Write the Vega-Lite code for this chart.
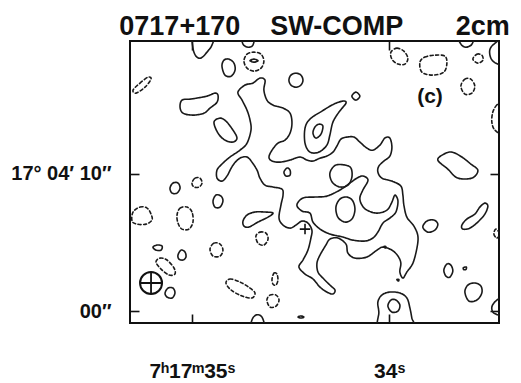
{
  "$schema": "https://vega.github.io/schema/vega-lite/v6.json",
  "width": 369,
  "height": 282,
  "autosize": {"type": "none"},
  "padding": {"left": 130, "top": 41, "right": 22, "bottom": 60},
  "background": "white",
  "title": {
    "text": "0717+170\u00a0\u00a0\u00a0\u00a0SW-COMP\u00a0\u00a0\u00a0\u00a0\u00a0\u00a0\u00a02cm",
    "font": "Liberation Sans",
    "fontSize": 27,
    "fontWeight": "bold",
    "color": "#111111",
    "anchor": "middle",
    "baseline": "alphabetic",
    "offset": -22
  },
  "config": {
    "view": {"stroke": "#111111", "strokeWidth": 2},
    "axis": {
      "domain": false,
      "grid": false,
      "tickColor": "#111111",
      "tickWidth": 1.6,
      "tickSize": -9,
      "labelFont": "Liberation Sans",
      "labelFontWeight": "bold",
      "labelColor": "#111111",
      "title": null
    }
  },
  "resolve": {"axis": {"x": "independent", "y": "independent"}},
  "layer": [
    {
      "data": {
        "values": [
          {"c":"c1","s":"p","x":0.07,"y":20.07},{"c":"c1","s":"p","x":0.07,"y":19.12},{"c":"c1","s":"p","x":0.29,"y":18.54},{"c":"c1","s":"p","x":0.65,"y":18.40},{"c":"c1","s":"p","x":1.09,"y":18.83},{"c":"c1","s":"p","x":1.45,"y":19.34},{"c":"c1","s":"p","x":1.60,"y":20.07},{"c":"c1","s":"p","x":0.87,"y":20.43},
          {"c":"c2","s":"p","x":3.64,"y":19.99},{"c":"c2","s":"p","x":3.71,"y":19.41},{"c":"c2","s":"p","x":4.07,"y":19.19},{"c":"c2","s":"p","x":4.43,"y":19.34},{"c":"c2","s":"p","x":4.51,"y":19.99},{"c":"c2","s":"p","x":4.07,"y":20.28},
          {"c":"c3","s":"n","x":-4.29,"y":16.07},{"c":"c3","s":"n","x":-3.78,"y":16.58},{"c":"c3","s":"n","x":-3.20,"y":17.01},{"c":"c3","s":"n","x":-2.98,"y":16.87},{"c":"c3","s":"n","x":-3.42,"y":16.28},{"c":"c3","s":"n","x":-4.07,"y":15.85},
          {"c":"c4","s":"p","x":2.18,"y":17.81},{"c":"c4","s":"p","x":2.33,"y":18.25},{"c":"c4","s":"p","x":2.69,"y":18.32},{"c":"c4","s":"p","x":3.05,"y":18.03},{"c":"c4","s":"p","x":3.13,"y":17.52},{"c":"c4","s":"p","x":2.84,"y":17.08},{"c":"c4","s":"p","x":2.40,"y":17.16},
          {"c":"c5","s":"n","x":3.78,"y":18.18},{"c":"c5","s":"n","x":4.00,"y":18.68},{"c":"c5","s":"n","x":4.51,"y":18.83},{"c":"c5","s":"n","x":5.02,"y":18.68},{"c":"c5","s":"n","x":5.23,"y":18.18},{"c":"c5","s":"n","x":5.02,"y":17.67},{"c":"c5","s":"n","x":4.51,"y":17.45},{"c":"c5","s":"n","x":4.00,"y":17.67},
          {"c":"c6","s":"p","x":4.22,"y":18.21},{"c":"c6","s":"p","x":4.51,"y":18.32},{"c":"c6","s":"p","x":4.80,"y":18.21},{"c":"c6","s":"p","x":4.51,"y":18.10},
          {"c":"c7","s":"p","x":7.05,"y":16.79},{"c":"c7","s":"p","x":7.20,"y":17.16},{"c":"c7","s":"p","x":7.56,"y":17.30},{"c":"c7","s":"p","x":7.92,"y":17.16},{"c":"c7","s":"p","x":8.07,"y":16.79},{"c":"c7","s":"p","x":7.92,"y":16.43},{"c":"c7","s":"p","x":7.56,"y":16.28},{"c":"c7","s":"p","x":7.20,"y":16.43},
          {"c":"c8","s":"p","x":-0.73,"y":15.34},{"c":"c8","s":"p","x":-0.15,"y":15.41},{"c":"c8","s":"p","x":0.36,"y":15.49},{"c":"c8","s":"p","x":1.09,"y":15.63},{"c":"c8","s":"p","x":1.67,"y":15.85},{"c":"c8","s":"p","x":1.89,"y":15.70},{"c":"c8","s":"p","x":1.82,"y":15.19},{"c":"c8","s":"p","x":1.31,"y":14.76},{"c":"c8","s":"p","x":0.87,"y":14.39},{"c":"c8","s":"p","x":0.07,"y":14.25},{"c":"c8","s":"p","x":-0.65,"y":14.39},{"c":"c8","s":"p","x":-0.87,"y":14.83},
          {"c":"c9","s":"p","x":1.60,"y":13.74},{"c":"c9","s":"p","x":2.04,"y":14.03},{"c":"c9","s":"p","x":2.47,"y":13.81},{"c":"c9","s":"p","x":2.98,"y":13.16},{"c":"c9","s":"p","x":3.27,"y":12.58},{"c":"c9","s":"p","x":2.98,"y":12.29},{"c":"c9","s":"p","x":2.40,"y":12.43},{"c":"c9","s":"p","x":1.89,"y":12.94},
          {"c":"c10","s":"p","x":8.22,"y":13.30},{"c":"c10","s":"p","x":8.58,"y":13.96},{"c":"c10","s":"p","x":9.45,"y":14.54},{"c":"c10","s":"p","x":10.32,"y":15.05},{"c":"c10","s":"p","x":10.98,"y":15.27},{"c":"c10","s":"p","x":11.20,"y":15.12},{"c":"c10","s":"p","x":10.69,"y":14.47},{"c":"c10","s":"p","x":10.25,"y":13.74},{"c":"c10","s":"p","x":10.03,"y":12.80},{"c":"c10","s":"p","x":9.81,"y":12.07},{"c":"c10","s":"p","x":9.23,"y":11.56},{"c":"c10","s":"p","x":8.58,"y":11.56},{"c":"c10","s":"p","x":8.22,"y":12.21},
          {"c":"c11","s":"p","x":9.23,"y":13.59},{"c":"c11","s":"p","x":9.52,"y":13.45},{"c":"c11","s":"p","x":9.38,"y":12.87},{"c":"c11","s":"p","x":9.01,"y":12.58},{"c":"c11","s":"p","x":8.80,"y":12.94},{"c":"c11","s":"p","x":8.94,"y":13.38},
          {"c":"c12","s":"p","x":11.63,"y":15.63},{"c":"c12","s":"p","x":11.92,"y":15.92},{"c":"c12","s":"p","x":12.21,"y":15.63},{"c":"c12","s":"p","x":11.92,"y":15.34},
          {"c":"c13","s":"n","x":14.47,"y":18.83},{"c":"c13","s":"n","x":14.90,"y":19.12},{"c":"c13","s":"n","x":15.41,"y":18.90},{"c":"c13","s":"n","x":15.70,"y":18.39},{"c":"c13","s":"n","x":15.49,"y":17.96},{"c":"c13","s":"n","x":14.98,"y":17.96},{"c":"c13","s":"n","x":14.54,"y":18.32},
          {"c":"c14","s":"n","x":16.58,"y":18.10},{"c":"c14","s":"n","x":16.94,"y":18.47},{"c":"c14","s":"n","x":17.67,"y":18.61},{"c":"c14","s":"n","x":18.39,"y":18.54},{"c":"c14","s":"n","x":18.54,"y":18.03},{"c":"c14","s":"n","x":18.32,"y":17.38},{"c":"c14","s":"n","x":17.52,"y":17.16},{"c":"c14","s":"n","x":16.72,"y":17.38},
          {"c":"c15","s":"n","x":20.43,"y":18.32},{"c":"c15","s":"n","x":20.72,"y":18.68},{"c":"c15","s":"n","x":21.08,"y":18.61},{"c":"c15","s":"n","x":21.16,"y":18.25},{"c":"c15","s":"n","x":20.79,"y":18.03},
          {"c":"c16","s":"p","x":22.61,"y":19.70},{"c":"c16","s":"p","x":21.96,"y":19.41},{"c":"c16","s":"p","x":21.66,"y":18.98},{"c":"c16","s":"p","x":21.74,"y":18.39},{"c":"c16","s":"p","x":22.10,"y":18.03},{"c":"c16","s":"p","x":22.61,"y":18.03},
          {"c":"c17","s":"p","x":19.41,"y":19.99},{"c":"c17","s":"p","x":19.56,"y":19.41},{"c":"c17","s":"p","x":19.92,"y":19.19},{"c":"c17","s":"p","x":20.36,"y":19.41},{"c":"c17","s":"p","x":20.43,"y":19.99},
          {"c":"c18","s":"n","x":19.56,"y":16.36},{"c":"c18","s":"n","x":19.85,"y":16.87},{"c":"c18","s":"n","x":20.28,"y":16.87},{"c":"c18","s":"n","x":20.57,"y":16.36},{"c":"c18","s":"n","x":20.36,"y":15.85},{"c":"c18","s":"n","x":19.85,"y":15.78},
          {"c":"c19","s":"n","x":22.61,"y":15.27},{"c":"c19","s":"n","x":22.17,"y":14.98},{"c":"c19","s":"n","x":21.88,"y":14.47},{"c":"c19","s":"n","x":21.81,"y":13.74},{"c":"c19","s":"n","x":22.03,"y":13.16},{"c":"c19","s":"n","x":22.61,"y":13.01},
          {"c":"c20","s":"p","x":17.88,"y":10.98},{"c":"c20","s":"p","x":18.32,"y":11.41},{"c":"c20","s":"p","x":18.90,"y":11.56},{"c":"c20","s":"p","x":19.63,"y":11.20},{"c":"c20","s":"p","x":20.28,"y":10.69},{"c":"c20","s":"p","x":20.79,"y":10.25},{"c":"c20","s":"p","x":20.50,"y":9.74},{"c":"c20","s":"p","x":19.85,"y":9.60},{"c":"c20","s":"p","x":19.19,"y":9.74},{"c":"c20","s":"p","x":18.61,"y":10.32},
          {"c":"c21","s":"p","x":16.79,"y":6.11},{"c":"c21","s":"p","x":17.08,"y":6.54},{"c":"c21","s":"p","x":17.59,"y":6.62},{"c":"c21","s":"p","x":17.88,"y":6.32},{"c":"c21","s":"p","x":17.67,"y":5.89},{"c":"c21","s":"p","x":17.16,"y":5.74},
          {"c":"c22","s":"p","x":19.63,"y":6.25},{"c":"c22","s":"p","x":19.99,"y":6.69},{"c":"c22","s":"p","x":20.57,"y":7.05},{"c":"c22","s":"p","x":20.94,"y":7.56},{"c":"c22","s":"p","x":21.30,"y":7.85},{"c":"c22","s":"p","x":21.52,"y":7.63},{"c":"c22","s":"p","x":21.30,"y":7.05},{"c":"c22","s":"p","x":20.79,"y":6.47},{"c":"c22","s":"p","x":20.21,"y":6.03},{"c":"c22","s":"p","x":19.70,"y":5.96},
          {"c":"c23","s":"p","x":18.32,"y":2.98},{"c":"c23","s":"p","x":18.54,"y":3.42},{"c":"c23","s":"p","x":18.83,"y":3.34},{"c":"c23","s":"p","x":18.97,"y":2.91},{"c":"c23","s":"p","x":18.76,"y":2.47},{"c":"c23","s":"p","x":18.47,"y":2.54},
          {"c":"c24","s":"p","x":19.74,"y":3.16},{"c":"c24","s":"p","x":19.96,"y":3.20},{"c":"c24","s":"p","x":19.92,"y":3.02},{"c":"c24","s":"p","x":19.76,"y":3.02},
          {"c":"c25","s":"p","x":19.85,"y":1.38},{"c":"c25","s":"p","x":20.07,"y":1.89},{"c":"c25","s":"p","x":20.57,"y":2.04},{"c":"c25","s":"p","x":21.01,"y":1.82},{"c":"c25","s":"p","x":21.08,"y":1.31},{"c":"c25","s":"p","x":20.72,"y":0.80},{"c":"c25","s":"p","x":20.14,"y":0.73},
          {"c":"c26","s":"n","x":22.10,"y":5.96},{"c":"c26","s":"n","x":21.96,"y":5.60},{"c":"c26","s":"n","x":22.17,"y":5.31},{"c":"c26","s":"n","x":22.39,"y":5.60},
          {"c":"c27","s":"p","x":22.61,"y":0.95},{"c":"c27","s":"p","x":22.10,"y":0.73},{"c":"c27","s":"p","x":21.81,"y":0.29},{"c":"c27","s":"p","x":21.96,"y":-0.15},{"c":"c27","s":"p","x":22.61,"y":-0.22},
          {"c":"c28","s":"p","x":13.67,"y":-1.38},{"c":"c28","s":"p","x":13.59,"y":-0.07},{"c":"c28","s":"p","x":13.52,"y":0.65},{"c":"c28","s":"p","x":13.81,"y":1.16},{"c":"c28","s":"p","x":14.39,"y":1.38},{"c":"c28","s":"p","x":15.12,"y":1.31},{"c":"c28","s":"p","x":15.63,"y":0.95},{"c":"c28","s":"p","x":15.85,"y":0.22},{"c":"c28","s":"p","x":15.99,"y":-0.51},{"c":"c28","s":"p","x":16.14,"y":-1.38},
          {"c":"c29","s":"p","x":14.25,"y":0.36},{"c":"c29","s":"p","x":14.47,"y":0.80},{"c":"c29","s":"p","x":14.83,"y":0.80},{"c":"c29","s":"p","x":15.12,"y":0.44},{"c":"c29","s":"p","x":14.98,"y":0.00},{"c":"c29","s":"p","x":14.54,"y":-0.07},
          {"c":"c30","s":"p","x":4.29,"y":-1.38},{"c":"c30","s":"p","x":4.36,"y":-0.65},{"c":"c30","s":"p","x":4.65,"y":-0.29},{"c":"c30","s":"p","x":5.02,"y":-0.36},{"c":"c30","s":"p","x":5.23,"y":-0.80},{"c":"c30","s":"p","x":5.31,"y":-1.38},
          {"c":"c31","s":"p","x":7.71,"y":-0.44},{"c":"c31","s":"p","x":7.92,"y":-0.36},{"c":"c31","s":"p","x":8.14,"y":-0.44},{"c":"c31","s":"p","x":7.92,"y":-0.51},
          {"c":"c32","s":"p","x":13.96,"y":4.69},{"c":"c32","s":"p","x":14.10,"y":4.69},{"c":"c32","s":"p","x":14.07,"y":4.58},
          {"c":"c33","s":"p","x":14.90,"y":2.29},{"c":"c33","s":"p","x":15.05,"y":2.29},{"c":"c33","s":"p","x":15.01,"y":2.18},
          {"c":"c34","s":"p","x":-1.60,"y":8.94},{"c":"c34","s":"p","x":-1.38,"y":9.31},{"c":"c34","s":"p","x":-1.02,"y":9.31},{"c":"c34","s":"p","x":-0.87,"y":8.94},{"c":"c34","s":"p","x":-1.09,"y":8.58},{"c":"c34","s":"p","x":-1.45,"y":8.58},
          {"c":"c35","s":"n","x":0.00,"y":9.31},{"c":"c35","s":"n","x":0.22,"y":9.67},{"c":"c35","s":"n","x":0.58,"y":9.67},{"c":"c35","s":"n","x":0.73,"y":9.31},{"c":"c35","s":"n","x":0.51,"y":9.02},{"c":"c35","s":"n","x":0.15,"y":9.02},
          {"c":"c36","s":"p","x":1.53,"y":8.00},{"c":"c36","s":"p","x":1.74,"y":8.43},{"c":"c36","s":"p","x":2.11,"y":8.36},{"c":"c36","s":"p","x":2.25,"y":8.00},{"c":"c36","s":"p","x":2.04,"y":7.56},{"c":"c36","s":"p","x":1.67,"y":7.56},
          {"c":"c37","s":"n","x":-4.29,"y":7.20},{"c":"c37","s":"n","x":-3.78,"y":7.56},{"c":"c37","s":"n","x":-3.27,"y":7.49},{"c":"c37","s":"n","x":-2.98,"y":7.05},{"c":"c37","s":"n","x":-2.91,"y":6.62},{"c":"c37","s":"n","x":-3.34,"y":6.32},{"c":"c37","s":"n","x":-4.00,"y":6.32},{"c":"c37","s":"n","x":-4.36,"y":6.54},
          {"c":"c38","s":"n","x":-1.09,"y":6.98},{"c":"c38","s":"n","x":-0.87,"y":7.49},{"c":"c38","s":"n","x":-0.36,"y":7.56},{"c":"c38","s":"n","x":0.00,"y":7.20},{"c":"c38","s":"n","x":0.07,"y":6.47},{"c":"c38","s":"n","x":-0.22,"y":5.96},{"c":"c38","s":"n","x":-0.73,"y":5.96},{"c":"c38","s":"n","x":-1.02,"y":6.40},
          {"c":"c39","s":"p","x":3.71,"y":6.54},{"c":"c39","s":"p","x":4.00,"y":6.98},{"c":"c39","s":"p","x":4.58,"y":7.20},{"c":"c39","s":"p","x":5.31,"y":7.20},{"c":"c39","s":"p","x":5.89,"y":7.13},{"c":"c39","s":"p","x":5.53,"y":6.83},{"c":"c39","s":"p","x":4.80,"y":6.47},{"c":"c39","s":"p","x":4.14,"y":6.11},{"c":"c39","s":"p","x":3.78,"y":6.18},
          {"c":"c40","s":"n","x":4.65,"y":5.45},{"c":"c40","s":"n","x":4.94,"y":5.74},{"c":"c40","s":"n","x":5.38,"y":5.67},{"c":"c40","s":"n","x":5.53,"y":5.23},{"c":"c40","s":"n","x":5.23,"y":4.80},{"c":"c40","s":"n","x":4.80,"y":4.94},
          {"c":"c41","s":"p","x":-2.84,"y":4.65},{"c":"c41","s":"p","x":-2.54,"y":4.80},{"c":"c41","s":"p","x":-2.18,"y":4.73},{"c":"c41","s":"p","x":-2.25,"y":4.43},{"c":"c41","s":"p","x":-2.62,"y":4.43},
          {"c":"c42","s":"p","x":-1.02,"y":4.07},{"c":"c42","s":"p","x":-0.80,"y":4.43},{"c":"c42","s":"p","x":-0.51,"y":4.29},{"c":"c42","s":"p","x":-0.44,"y":3.93},{"c":"c42","s":"p","x":-0.65,"y":3.71},{"c":"c42","s":"p","x":-0.95,"y":3.78},
          {"c":"c43","s":"n","x":1.31,"y":4.51},{"c":"c43","s":"n","x":1.60,"y":4.94},{"c":"c43","s":"n","x":2.04,"y":4.87},{"c":"c43","s":"n","x":2.25,"y":4.43},{"c":"c43","s":"n","x":2.04,"y":4.00},{"c":"c43","s":"n","x":1.53,"y":4.00},
          {"c":"c44","s":"n","x":-2.62,"y":3.56},{"c":"c44","s":"n","x":-2.33,"y":3.85},{"c":"c44","s":"n","x":-1.82,"y":3.71},{"c":"c44","s":"n","x":-1.31,"y":3.13},{"c":"c44","s":"n","x":-1.24,"y":2.69},{"c":"c44","s":"n","x":-1.67,"y":2.62},{"c":"c44","s":"n","x":-2.25,"y":3.05},
          {"c":"c45","s":"p","x":-1.96,"y":1.31},{"c":"c45","s":"p","x":-1.74,"y":1.67},{"c":"c45","s":"p","x":-1.38,"y":1.67},{"c":"c45","s":"p","x":-1.24,"y":1.31},{"c":"c45","s":"p","x":-1.45,"y":0.95},{"c":"c45","s":"p","x":-1.82,"y":1.02},
          {"c":"c46","s":"n","x":2.47,"y":2.04},{"c":"c46","s":"n","x":2.76,"y":2.33},{"c":"c46","s":"n","x":3.49,"y":2.11},{"c":"c46","s":"n","x":4.22,"y":1.67},{"c":"c46","s":"n","x":4.58,"y":1.31},{"c":"c46","s":"n","x":4.36,"y":0.95},{"c":"c46","s":"n","x":3.64,"y":1.09},{"c":"c46","s":"n","x":2.84,"y":1.53},
          {"c":"c47","s":"n","x":5.82,"y":2.33},{"c":"c47","s":"n","x":5.96,"y":2.76},{"c":"c47","s":"n","x":6.18,"y":2.69},{"c":"c47","s":"n","x":6.25,"y":2.25},{"c":"c47","s":"n","x":6.11,"y":1.89},{"c":"c47","s":"n","x":5.89,"y":1.96},
          {"c":"c48","s":"n","x":5.45,"y":0.80},{"c":"c48","s":"n","x":5.67,"y":1.16},{"c":"c48","s":"n","x":6.11,"y":1.16},{"c":"c48","s":"n","x":6.33,"y":0.80},{"c":"c48","s":"n","x":6.11,"y":0.36},{"c":"c48","s":"n","x":5.67,"y":0.29},
          {"c":"m","s":"p","x":3.34,"y":15.92},{"c":"m","s":"p","x":3.85,"y":16.43},{"c":"m","s":"p","x":4.43,"y":16.58},{"c":"m","s":"p","x":4.94,"y":16.94},{"c":"m","s":"p","x":5.31,"y":16.79},{"c":"m","s":"p","x":5.23,"y":16.07},{"c":"m","s":"p","x":5.45,"y":15.34},{"c":"m","s":"p","x":5.89,"y":14.98},{"c":"m","s":"p","x":6.62,"y":14.76},{"c":"m","s":"p","x":7.13,"y":14.39},{"c":"m","s":"p","x":7.27,"y":13.67},{"c":"m","s":"p","x":7.13,"y":12.94},{"c":"m","s":"p","x":6.76,"y":12.43},{"c":"m","s":"p","x":6.25,"y":12.21},{"c":"m","s":"p","x":5.82,"y":11.70},{"c":"m","s":"p","x":5.60,"y":11.20},{"c":"m","s":"p","x":5.82,"y":10.91},{"c":"m","s":"p","x":6.40,"y":10.83},{"c":"m","s":"p","x":7.13,"y":10.98},{"c":"m","s":"p","x":7.85,"y":11.20},{"c":"m","s":"p","x":8.36,"y":10.98},{"c":"m","s":"p","x":8.80,"y":10.91},{"c":"m","s":"p","x":9.31,"y":11.12},{"c":"m","s":"p","x":9.81,"y":11.27},{"c":"m","s":"p","x":10.25,"y":11.56},{"c":"m","s":"p","x":10.54,"y":12.00},{"c":"m","s":"p","x":10.83,"y":12.50},{"c":"m","s":"p","x":11.27,"y":12.65},{"c":"m","s":"p","x":11.78,"y":12.65},{"c":"m","s":"p","x":12.21,"y":12.29},{"c":"m","s":"p","x":12.72,"y":11.85},{"c":"m","s":"p","x":13.16,"y":11.70},{"c":"m","s":"p","x":13.67,"y":12.07},{"c":"m","s":"p","x":14.03,"y":12.58},{"c":"m","s":"p","x":14.39,"y":12.58},{"c":"m","s":"p","x":14.54,"y":11.92},{"c":"m","s":"p","x":14.39,"y":11.27},{"c":"m","s":"p","x":13.96,"y":10.91},{"c":"m","s":"p","x":13.59,"y":10.54},{"c":"m","s":"p","x":13.52,"y":10.11},{"c":"m","s":"p","x":13.81,"y":9.67},{"c":"m","s":"p","x":14.54,"y":9.45},{"c":"m","s":"p","x":15.19,"y":9.09},{"c":"m","s":"p","x":15.34,"y":8.43},{"c":"m","s":"p","x":15.41,"y":7.71},{"c":"m","s":"p","x":15.63,"y":6.83},{"c":"m","s":"p","x":16.14,"y":6.18},{"c":"m","s":"p","x":16.43,"y":5.45},{"c":"m","s":"p","x":16.36,"y":4.58},{"c":"m","s":"p","x":16.07,"y":3.49},{"c":"m","s":"p","x":15.63,"y":2.84},{"c":"m","s":"p","x":15.34,"y":2.40},{"c":"m","s":"p","x":15.12,"y":2.84},{"c":"m","s":"p","x":15.19,"y":3.49},{"c":"m","s":"p","x":14.98,"y":4.00},{"c":"m","s":"p","x":14.54,"y":4.43},{"c":"m","s":"p","x":13.89,"y":4.65},{"c":"m","s":"p","x":13.45,"y":4.43},{"c":"m","s":"p","x":12.72,"y":3.93},{"c":"m","s":"p","x":11.85,"y":3.85},{"c":"m","s":"p","x":11.34,"y":4.22},{"c":"m","s":"p","x":11.20,"y":4.87},{"c":"m","s":"p","x":10.61,"y":5.31},{"c":"m","s":"p","x":10.03,"y":5.23},{"c":"m","s":"p","x":9.74,"y":4.80},{"c":"m","s":"p","x":9.31,"y":4.07},{"c":"m","s":"p","x":9.09,"y":3.49},{"c":"m","s":"p","x":9.16,"y":2.84},{"c":"m","s":"p","x":9.52,"y":2.40},{"c":"m","s":"p","x":10.03,"y":1.89},{"c":"m","s":"p","x":10.40,"y":1.53},{"c":"m","s":"p","x":10.25,"y":1.24},{"c":"m","s":"p","x":9.81,"y":1.38},{"c":"m","s":"p","x":9.31,"y":1.74},{"c":"m","s":"p","x":8.80,"y":2.33},{"c":"m","s":"p","x":8.22,"y":2.69},{"c":"m","s":"p","x":7.78,"y":3.20},{"c":"m","s":"p","x":8.07,"y":3.71},{"c":"m","s":"p","x":8.43,"y":4.43},{"c":"m","s":"p","x":8.65,"y":5.31},{"c":"m","s":"p","x":8.72,"y":5.89},{"c":"m","s":"p","x":8.43,"y":6.40},{"c":"m","s":"p","x":8.00,"y":6.54},{"c":"m","s":"p","x":7.56,"y":6.25},{"c":"m","s":"p","x":7.13,"y":6.03},{"c":"m","s":"p","x":6.62,"y":6.25},{"c":"m","s":"p","x":6.33,"y":6.76},{"c":"m","s":"p","x":6.47,"y":7.71},{"c":"m","s":"p","x":6.62,"y":8.43},{"c":"m","s":"p","x":6.54,"y":8.87},{"c":"m","s":"p","x":5.89,"y":9.02},{"c":"m","s":"p","x":5.31,"y":9.16},{"c":"m","s":"p","x":4.94,"y":9.67},{"c":"m","s":"p","x":4.73,"y":10.25},{"c":"m","s":"p","x":4.36,"y":10.83},{"c":"m","s":"p","x":4.00,"y":11.20},{"c":"m","s":"p","x":3.49,"y":11.12},{"c":"m","s":"p","x":2.98,"y":10.61},{"c":"m","s":"p","x":2.54,"y":9.81},{"c":"m","s":"p","x":2.18,"y":9.45},{"c":"m","s":"p","x":1.82,"y":9.67},{"c":"m","s":"p","x":1.82,"y":10.25},{"c":"m","s":"p","x":2.18,"y":10.69},{"c":"m","s":"p","x":2.76,"y":11.20},{"c":"m","s":"p","x":3.49,"y":11.70},{"c":"m","s":"p","x":4.00,"y":12.21},{"c":"m","s":"p","x":4.29,"y":13.16},{"c":"m","s":"p","x":4.22,"y":13.89},{"c":"m","s":"p","x":4.00,"y":14.61},{"c":"m","s":"p","x":3.64,"y":15.34},
          {"c":"i1","s":"p","x":10.11,"y":10.25},{"c":"i1","s":"p","x":10.47,"y":10.62},{"c":"i1","s":"p","x":11.12,"y":10.62},{"c":"i1","s":"p","x":11.56,"y":10.40},{"c":"i1","s":"p","x":11.63,"y":9.74},{"c":"i1","s":"p","x":11.34,"y":9.16},{"c":"i1","s":"p","x":10.76,"y":9.02},{"c":"i1","s":"p","x":10.25,"y":9.31},{"c":"i1","s":"p","x":10.03,"y":9.82},
          {"c":"i2","s":"p","x":10.47,"y":7.56},{"c":"i2","s":"p","x":10.76,"y":8.14},{"c":"i2","s":"p","x":11.27,"y":8.29},{"c":"i2","s":"p","x":11.70,"y":8.00},{"c":"i2","s":"p","x":11.85,"y":7.35},{"c":"i2","s":"p","x":11.63,"y":6.69},{"c":"i2","s":"p","x":11.12,"y":6.47},{"c":"i2","s":"p","x":10.61,"y":6.83},
          {"c":"i3","s":"p","x":6.69,"y":10.11},{"c":"i3","s":"p","x":6.91,"y":10.40},{"c":"i3","s":"p","x":7.13,"y":10.25},{"c":"i3","s":"p","x":7.13,"y":9.89},{"c":"i3","s":"p","x":6.83,"y":9.82},
          {"c":"i4","s":"p","x":7.63,"y":7.71},{"c":"i4","s":"p","x":8.07,"y":8.22},{"c":"i4","s":"p","x":8.94,"y":8.29},{"c":"i4","s":"p","x":9.81,"y":8.36},{"c":"i4","s":"p","x":10.76,"y":8.80},{"c":"i4","s":"p","x":11.49,"y":9.31},{"c":"i4","s":"p","x":12.00,"y":9.67},{"c":"i4","s":"p","x":12.43,"y":9.82},{"c":"i4","s":"p","x":12.80,"y":9.52},{"c":"i4","s":"p","x":12.43,"y":8.80},{"c":"i4","s":"p","x":12.21,"y":8.22},{"c":"i4","s":"p","x":12.36,"y":7.71},{"c":"i4","s":"p","x":12.72,"y":7.34},{"c":"i4","s":"p","x":13.45,"y":7.12},{"c":"i4","s":"p","x":14.18,"y":7.34},{"c":"i4","s":"p","x":14.54,"y":7.92},{"c":"i4","s":"p","x":14.76,"y":8.43},{"c":"i4","s":"p","x":14.98,"y":8.00},{"c":"i4","s":"p","x":14.83,"y":7.20},{"c":"i4","s":"p","x":14.39,"y":6.76},{"c":"i4","s":"p","x":13.89,"y":6.40},{"c":"i4","s":"p","x":13.52,"y":5.74},{"c":"i4","s":"p","x":13.16,"y":5.31},{"c":"i4","s":"p","x":12.58,"y":5.09},{"c":"i4","s":"p","x":11.70,"y":5.16},{"c":"i4","s":"p","x":10.98,"y":5.38},{"c":"i4","s":"p","x":10.03,"y":5.60},{"c":"i4","s":"p","x":9.31,"y":5.96},{"c":"i4","s":"p","x":8.80,"y":6.47},{"c":"i4","s":"p","x":8.58,"y":7.12},{"c":"i4","s":"p","x":8.00,"y":7.27}
        ]
      },
      "mark": {"type": "line", "interpolate": "cardinal-closed", "clip": true, "color": "#1a1a1a", "strokeWidth": 1.6, "strokeJoin": "round", "strokeCap": "round"},
      "encoding": {
        "x": {
          "field": "x", "type": "quantitative",
          "scale": {"domain": [-4.51, 22.33], "nice": false, "zero": false},
          "axis": {"orient": "bottom", "values": [0, 14.34], "labelFontSize": 21, "labelPadding": 63, "labelBaseline": "alphabetic", "labelAlign": "center",
                   "labelExpr": "datum.value == 0 ? '7ʰ17ᵐ35ˢ' : '34ˢ'"}
        },
        "y": {
          "field": "y", "type": "quantitative",
          "scale": {"domain": [-0.87, 19.64], "nice": false, "zero": false},
          "axis": {"orient": "left", "values": [0, 10], "labelFontSize": 20, "labelPadding": 28, "labelBaseline": "middle",
                   "labelExpr": "datum.value == 10 ? '17° 04′ 10″' : '00″'"}
        },
        "detail": {"field": "c"},
        "order": {"value": null},
        "strokeDash": {"field": "s", "type": "nominal", "scale": {"domain": ["p", "n"], "range": [[1, 0], [3, 2.5]]}, "legend": null}
      }
    },
    {
      "data": {"values": [{"x": -2.98, "y": 2.04}]},
      "layer": [
        {"mark": {"type": "point", "shape": "circle", "size": 484, "filled": false, "color": "#111111", "strokeWidth": 2, "opacity": 1}},
        {"mark": {"type": "point", "shape": "M-1,0L1,0M0,-1L0,1", "size": 484, "filled": false, "color": "#111111", "strokeWidth": 1.8, "opacity": 1}}
      ],
      "encoding": {
        "x": {"field": "x", "type": "quantitative", "scale": {"domain": [-4.51, 22.33], "nice": false, "zero": false},
              "axis": {"orient": "top", "values": [0, 14.34], "labels": false}},
        "y": {"field": "y", "type": "quantitative", "scale": {"domain": [-0.87, 19.64], "nice": false, "zero": false},
              "axis": {"orient": "right", "values": [0, 10], "labels": false}}
      }
    },
    {
      "data": {"values": [{"x": 8.22, "y": 5.96}]},
      "mark": {"type": "point", "shape": "M-1,0L1,0M0,-1L0,1", "size": 110, "filled": false, "color": "#111111", "strokeWidth": 1.6, "opacity": 1},
      "encoding": {
        "x": {"field": "x", "type": "quantitative", "axis": null},
        "y": {"field": "y", "type": "quantitative", "axis": null}
      }
    },
    {
      "data": {"values": [{"x": 17.31, "y": 15.56, "label": "(c)"}]},
      "mark": {"type": "text", "font": "Liberation Sans", "fontSize": 21, "fontWeight": "bold", "color": "#111111", "align": "center", "baseline": "middle"},
      "encoding": {
        "x": {"field": "x", "type": "quantitative", "axis": null},
        "y": {"field": "y", "type": "quantitative", "axis": null},
        "text": {"field": "label"}
      }
    }
  ]
}
